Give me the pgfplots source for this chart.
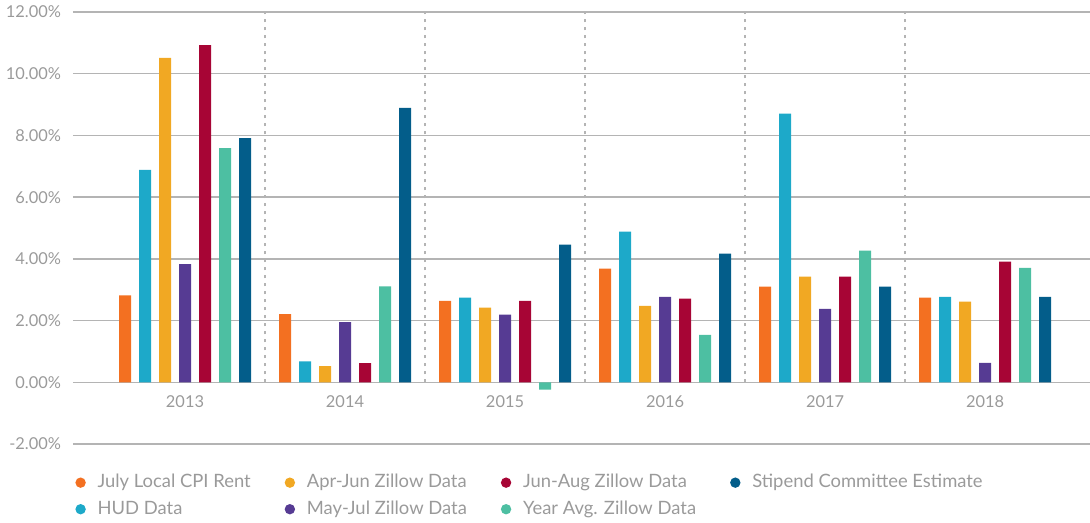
\documentclass[border=0pt]{standalone}
\usepackage{fontspec}
\setmainfont{Lato}
\usepackage{pgfplots}
\usepackage{pgfplotstable}
\pgfplotsset{compat=1.18}
\usetikzlibrary{calc}
\definecolor{cOrange}{HTML}{F37021}
\definecolor{cCyan}{HTML}{1DA9C9}
\definecolor{cYellow}{HTML}{F1A823}
\definecolor{cPurple}{HTML}{563B93}
\definecolor{cRed}{HTML}{A70535}
\definecolor{cTeal}{HTML}{4DBFA2}
\definecolor{cNavy}{HTML}{035D8A}
\definecolor{gridgray}{HTML}{B4B4B4}
\definecolor{txtgray}{HTML}{9A9A9A}
\pgfplotstableread{
x   cpi   hud   aprjun  mayjul  junaug  yavg   stip
0   2.82  6.88  10.51   3.83    10.93   7.59   7.91
1   2.21  0.68  0.52    1.95    0.62    3.11   8.89
2   2.64  2.74  2.42    2.19    2.64   -0.24   4.46
3   3.68  4.88  2.48    2.77    2.71    1.54   4.17
4   3.10  8.71  3.42    2.38    3.42    4.27   3.10
5   2.74  2.77  2.61    0.63    3.91    3.71   2.77
}\rentdata
\pgfplotsset{mylegend/.style={legend image code/.code={\fill[##1] (2.5pt,0pt) circle (2.6pt); \path[draw=none,fill=none] (0pt,0pt) rectangle (9pt,0pt);}}}
\begin{document}
\begin{tikzpicture}
\begin{axis}[
  scale only axis, width=508.5pt, height=216pt,
  xmin=-0.7, xmax=5.656, ymin=-2, ymax=12,
  axis x line=middle, axis y line=left,
  axis line style={draw=none},
  ytick={-2,0,2,4,6,8,10,12},
  yticklabel={\pgfmathprintnumber[fixed,fixed zerofill,precision=2]{\tick}\%},
  ymajorgrids, grid style={line width=0.75pt, color=gridgray},
  xtick={0,1,2,3,4,5}, xticklabels={2013,2014,2015,2016,2017,2018},
  major tick length=0,
  tick label style={font=\fontsize{8.2}{10}\selectfont, text=txtgray},
  /pgf/number format/assume math mode=true,
  xticklabel style={yshift=-3pt},
  yticklabel style={xshift=-2.5pt},
  ybar, bar width=6pt,
  legend columns=4,
  legend cell align=left,
  legend style={draw=none, fill=none, at={(axis description cs:0,0)}, anchor=north west,
    xshift=-2pt, yshift=-11pt, font=\fontsize{9.2}{11}\selectfont, text=txtgray,
    /tikz/every even column/.append style={column sep=15pt}, row sep=1pt},
]
\draw[gridgray, line width=0.6pt, dash pattern=on 1.5pt off 2.5pt] (axis cs:0.5,0) -- (axis cs:0.5,12);
\draw[gridgray, line width=0.6pt, dash pattern=on 1.5pt off 2.5pt] (axis cs:1.5,0) -- (axis cs:1.5,12);
\draw[gridgray, line width=0.6pt, dash pattern=on 1.5pt off 2.5pt] (axis cs:2.5,0) -- (axis cs:2.5,12);
\draw[gridgray, line width=0.6pt, dash pattern=on 1.5pt off 2.5pt] (axis cs:3.5,0) -- (axis cs:3.5,12);
\draw[gridgray, line width=0.6pt, dash pattern=on 1.5pt off 2.5pt] (axis cs:4.5,0) -- (axis cs:4.5,12);
\addplot[fill=cOrange, draw=none, forget plot, bar shift=-30pt] table[x=x, y=cpi] {\rentdata};
\addplot[fill=cCyan, draw=none, forget plot, bar shift=-20pt] table[x=x, y=hud] {\rentdata};
\addplot[fill=cYellow, draw=none, forget plot, bar shift=-10pt] table[x=x, y=aprjun] {\rentdata};
\addplot[fill=cPurple, draw=none, forget plot, bar shift=0pt] table[x=x, y=mayjul] {\rentdata};
\addplot[fill=cRed, draw=none, forget plot, bar shift=10pt] table[x=x, y=junaug] {\rentdata};
\addplot[fill=cTeal, draw=none, forget plot, bar shift=20pt] table[x=x, y=yavg] {\rentdata};
\addplot[fill=cNavy, draw=none, forget plot, bar shift=30pt] table[x=x, y=stip] {\rentdata};
\addlegendimage{fill=cOrange, draw=none, mylegend}
\addlegendentry{July Local CPI Rent}
\addlegendimage{fill=cYellow, draw=none, mylegend}
\addlegendentry{Apr-Jun Zillow Data}
\addlegendimage{fill=cRed, draw=none, mylegend}
\addlegendentry{Jun-Aug Zillow Data}
\addlegendimage{fill=cNavy, draw=none, mylegend}
\addlegendentry{Stipend Committee Estimate}
\addlegendimage{fill=cCyan, draw=none, mylegend}
\addlegendentry{HUD Data}
\addlegendimage{fill=cPurple, draw=none, mylegend}
\addlegendentry{May-Jul Zillow Data}
\addlegendimage{fill=cTeal, draw=none, mylegend}
\addlegendentry{Year Avg. Zillow Data}
\coordinate (bl) at (rel axis cs:0,0);
\coordinate (tr) at (rel axis cs:1,1);
\end{axis}
\pgfresetboundingbox
\path ($(bl)+(-36.5pt,-39.5pt)$) rectangle ($(tr)+(0,6pt)$);
\end{tikzpicture}
\end{document}
